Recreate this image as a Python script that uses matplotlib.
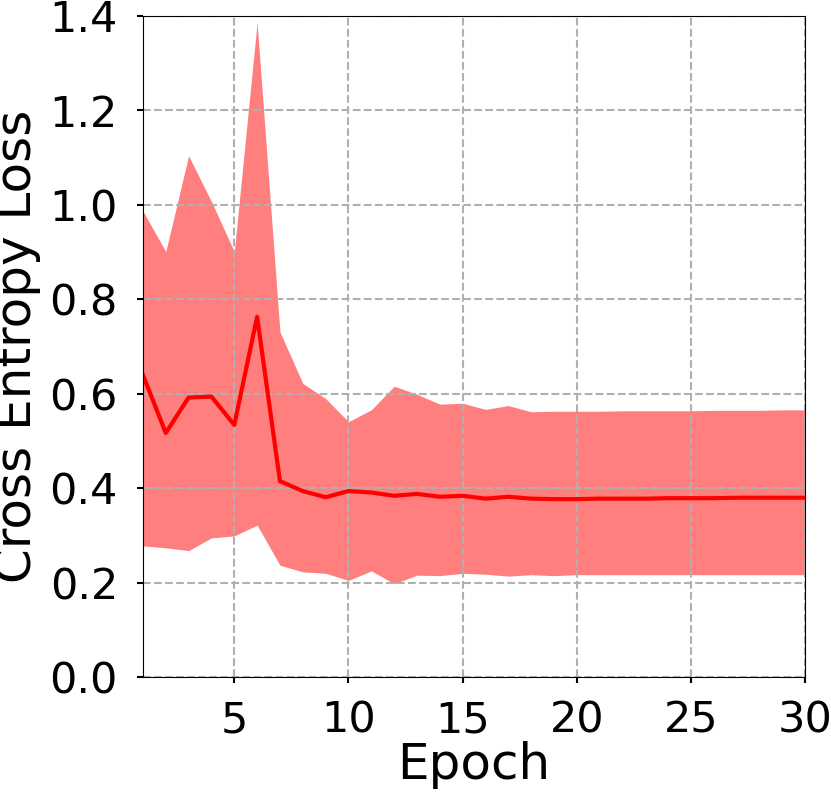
import matplotlib
matplotlib.use("Agg")
import matplotlib.pyplot as plt
import numpy as np

epochs = np.arange(1, 31)
mean_loss = [0.64, 0.517, 0.592, 0.594, 0.534, 0.763, 0.415, 0.394, 0.381, 0.394,
             0.391, 0.384, 0.388, 0.382, 0.384, 0.378, 0.382, 0.378, 0.377, 0.377,
             0.378, 0.378, 0.378, 0.379, 0.379, 0.379, 0.380, 0.380, 0.380, 0.380]
upper = [0.987, 0.901, 1.104, 1.007, 0.901, 1.386, 0.731, 0.622, 0.590, 0.541,
         0.566, 0.616, 0.599, 0.578, 0.580, 0.567, 0.575, 0.562, 0.563, 0.563,
         0.563, 0.564, 0.564, 0.564, 0.564, 0.565, 0.565, 0.565, 0.566, 0.566]
lower = [0.278, 0.274, 0.268, 0.295, 0.299, 0.322, 0.237, 0.223, 0.220, 0.205,
         0.225, 0.198, 0.216, 0.215, 0.220, 0.218, 0.214, 0.217, 0.215, 0.217,
         0.217, 0.217, 0.217, 0.217, 0.217, 0.217, 0.217, 0.217, 0.217, 0.217]

fig = plt.figure(figsize=(8.31, 7.93), dpi=100)
ax = fig.add_axes([0.172, 0.146, 0.797, 0.834])

ax.fill_between(epochs, lower, upper, color='red', alpha=0.5, linewidth=0)
ax.plot(epochs, mean_loss, color='red', linewidth=3)

ax.set_xlim(1, 30)
ax.set_ylim(0, 1.4)
ax.set_xticks([5, 10, 15, 20, 25, 30])
ax.set_yticks(np.arange(0, 1.41, 0.2))
ax.set_yticklabels(['%.1f' % v for v in np.arange(0, 1.41, 0.2)])
ax.grid(True, linestyle='--', color='#b0b0b0', linewidth=1.5)
ax.tick_params(labelsize=31, width=1.5, length=4)
ax.tick_params(axis='x', pad=12)
ax.tick_params(axis='y', pad=14)
ax.set_xlabel('Epoch', fontsize=36, labelpad=0)
ax.set_ylabel('Cross Entropy Loss', fontsize=36, labelpad=6)

plt.savefig('out.png', dpi=100)
